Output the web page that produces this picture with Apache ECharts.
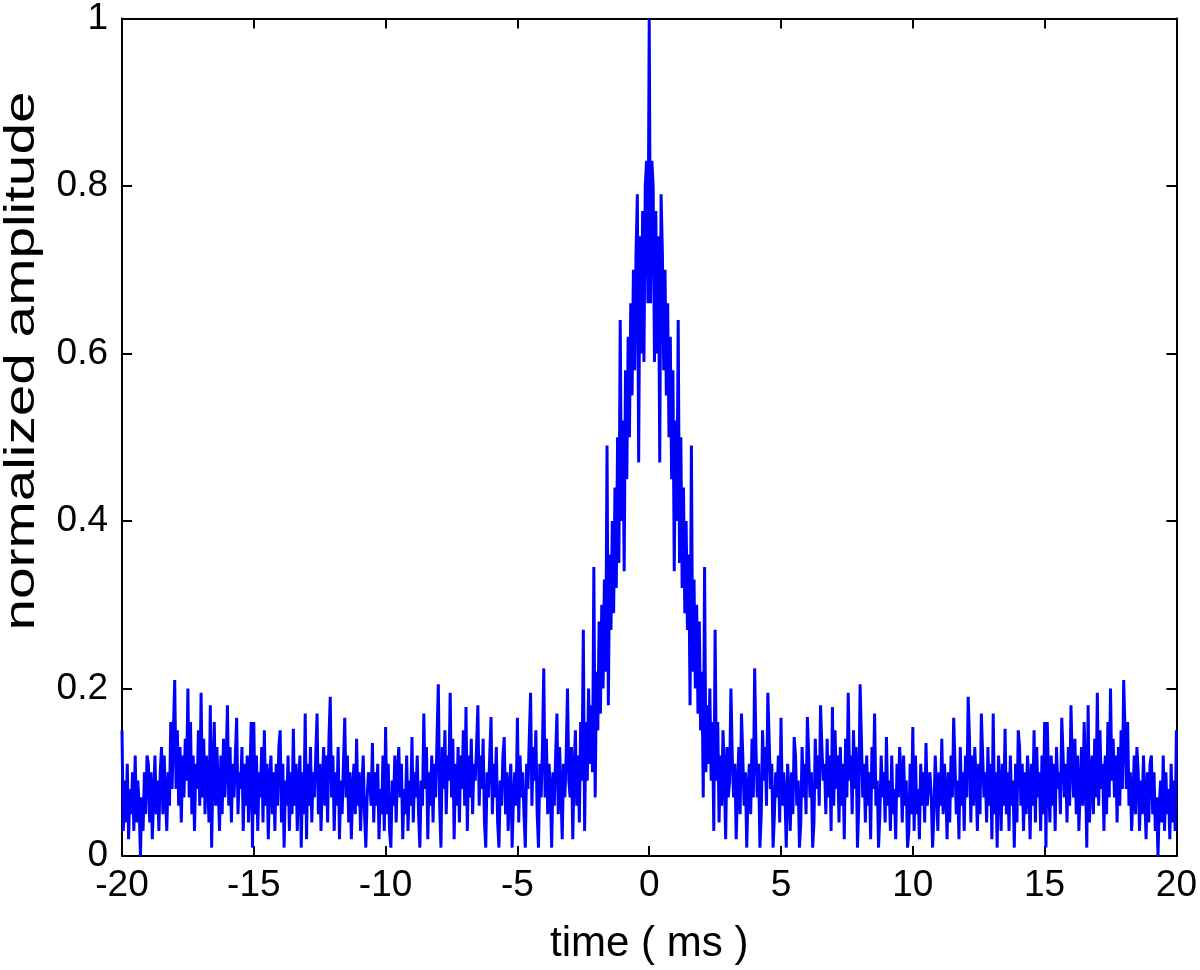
<!DOCTYPE html>
<html lang="en">
<head>
    <meta charset="UTF-8" />
    <title>normalized amplitude vs time</title>
    <script src="https://cdn.jsdelivr.net/npm/echarts@6/dist/echarts.min.js"></script>
    <style>
        body { margin: 0; background: #ffffff; }
        #chart { width: 1200px; height: 970px; }
    </style>
</head>
<body>
<div id="chart"></div>

<script>
    // sampling of the trace (ms)
    const tStart = -20;
    const tStep = 0.05;

    // left wing, t = -20.00 ... -0.05 (one row per ms)
    const leftWing = [
        0.15, 0.03, 0.09, 0.04, 0.11, 0.02, 0.08, 0.05, 0.10, 0.03, 0.12, 0.04, 0.09, 0.06, 0.00, 0.07, 0.03, 0.10, 0.05, 0.12,
        0.11, 0.04, 0.10, 0.02, 0.07, 0.12, 0.05, 0.09, 0.03, 0.10, 0.13, 0.05, 0.12, 0.07, 0.03, 0.10, 0.06, 0.16, 0.08, 0.15,
        0.21, 0.08, 0.15, 0.06, 0.13, 0.04, 0.12, 0.07, 0.14, 0.09, 0.20, 0.07, 0.16, 0.05, 0.12, 0.03, 0.11, 0.08, 0.15, 0.06,
        0.195, 0.07, 0.14, 0.05, 0.12, 0.09, 0.04, 0.18, 0.01, 0.10, 0.16, 0.06, 0.13, 0.08, 0.03, 0.12, 0.05, 0.14, 0.07, 0.11,
        0.18, 0.06, 0.13, 0.04, 0.11, 0.07, 0.12, 0.165, 0.05, 0.10, 0.08, 0.13, 0.03, 0.11, 0.06, 0.12, 0.04, 0.09, 0.16, 0.01,
        0.16, 0.05, 0.12, 0.03, 0.10, 0.07, 0.13, 0.04, 0.15, 0.06, 0.11, 0.02, 0.09, 0.12, 0.05, 0.10, 0.03, 0.11, 0.06, 0.13,
        0.15, 0.04, 0.11, 0.01, 0.09, 0.06, 0.12, 0.03, 0.10, 0.05, 0.152, 0.06, 0.11, 0.03, 0.09, 0.12, 0.01, 0.10, 0.05, 0.17,
        0.02, 0.11, 0.06, 0.13, 0.04, 0.10, 0.07, 0.12, 0.17, 0.05, 0.11, 0.03, 0.09, 0.13, 0.06, 0.12, 0.04, 0.14, 0.19, 0.07,
        0.12, 0.03, 0.10, 0.06, 0.13, 0.02, 0.09, 0.05, 0.11, 0.165, 0.07, 0.12, 0.04, 0.10, 0.02, 0.08, 0.11, 0.05, 0.14, 0.06,
        0.10, 0.03, 0.08, 0.12, 0.05, 0.01, 0.07, 0.10, 0.09, 0.06, 0.135, 0.04, 0.10, 0.06, 0.11, 0.02, 0.08, 0.05, 0.12, 0.03,
        0.154, 0.05, 0.11, 0.03, 0.01, 0.09, 0.06, 0.12, 0.04, 0.10, 0.13, 0.07, 0.11, 0.02, 0.08, 0.05, 0.12, 0.03, 0.09, 0.06,
        0.142, 0.04, 0.10, 0.07, 0.12, 0.05, 0.01, 0.09, 0.06, 0.17, 0.08, 0.13, 0.02, 0.10, 0.06, 0.12, 0.04, 0.11, 0.07, 0.14,
        0.205, 0.06, 0.01, 0.13, 0.08, 0.15, 0.05, 0.12, 0.09, 0.195, 0.07, 0.14, 0.02, 0.11, 0.06, 0.13, 0.04, 0.12, 0.08, 0.15,
        0.06, 0.178, 0.03, 0.12, 0.07, 0.14, 0.05, 0.11, 0.09, 0.13, 0.18, 0.06, 0.12, 0.08, 0.14, 0.04, 0.01, 0.10, 0.07, 0.12,
        0.166, 0.05, 0.11, 0.07, 0.13, 0.04, 0.01, 0.09, 0.06, 0.12, 0.142, 0.05, 0.10, 0.03, 0.08, 0.11, 0.01, 0.07, 0.10, 0.06,
        0.165, 0.04, 0.12, 0.07, 0.10, 0.05, 0.01, 0.11, 0.08, 0.14, 0.195, 0.06, 0.13, 0.09, 0.15, 0.05, 0.01, 0.11, 0.07, 0.13,
        0.224, 0.07, 0.14, 0.05, 0.11, 0.08, 0.01, 0.10, 0.06, 0.12, 0.17, 0.05, 0.13, 0.08, 0.02, 0.11, 0.07, 0.12, 0.20, 0.09,
        0.07, 0.13, 0.02, 0.10, 0.15, 0.06, 0.12, 0.04, 0.16, 0.09, 0.27, 0.03, 0.16, 0.09, 0.20, 0.11, 0.18, 0.10, 0.345, 0.07,
        0.22, 0.15, 0.28, 0.17, 0.30, 0.20, 0.33, 0.22, 0.49, 0.18, 0.36, 0.27, 0.40, 0.29, 0.44, 0.32, 0.50, 0.35, 0.64, 0.40,
        0.52, 0.34, 0.58, 0.45, 0.62, 0.50, 0.66, 0.55, 0.70, 0.58, 0.72, 0.79, 0.47, 0.74, 0.60, 0.77, 0.59, 0.80, 0.83, 0.66
    ];

    // value at t = 0
    const peakValue = [1.0];

    // right wing, t = 0.05 ... 20.00
    const rightWing = [
        0.66, 0.83, 0.80, 0.59, 0.77, 0.60, 0.74, 0.47, 0.79, 0.72, 0.58, 0.70, 0.55, 0.66, 0.50, 0.62, 0.45, 0.58, 0.34, 0.52,
        0.40, 0.64, 0.35, 0.50, 0.32, 0.44, 0.29, 0.40, 0.27, 0.36, 0.18, 0.49, 0.22, 0.33, 0.20, 0.30, 0.17, 0.28, 0.15, 0.22,
        0.07, 0.345, 0.10, 0.18, 0.11, 0.20, 0.09, 0.16, 0.03, 0.27, 0.09, 0.16, 0.04, 0.12, 0.06, 0.15, 0.10, 0.02, 0.13, 0.07,
        0.09, 0.20, 0.12, 0.07, 0.11, 0.02, 0.08, 0.13, 0.05, 0.17, 0.12, 0.06, 0.10, 0.01, 0.08, 0.11, 0.05, 0.14, 0.07, 0.224,
        0.13, 0.07, 0.11, 0.01, 0.05, 0.15, 0.09, 0.13, 0.06, 0.195, 0.14, 0.08, 0.11, 0.01, 0.05, 0.10, 0.07, 0.12, 0.04, 0.165,
        0.06, 0.10, 0.07, 0.01, 0.11, 0.08, 0.03, 0.10, 0.05, 0.142, 0.12, 0.06, 0.09, 0.01, 0.04, 0.13, 0.07, 0.11, 0.05, 0.166,
        0.12, 0.07, 0.10, 0.01, 0.04, 0.14, 0.08, 0.12, 0.06, 0.18, 0.13, 0.09, 0.11, 0.05, 0.14, 0.07, 0.12, 0.03, 0.178, 0.06,
        0.15, 0.08, 0.12, 0.04, 0.13, 0.06, 0.11, 0.02, 0.14, 0.07, 0.195, 0.09, 0.12, 0.05, 0.15, 0.08, 0.13, 0.01, 0.06, 0.205,
        0.14, 0.07, 0.11, 0.04, 0.12, 0.06, 0.10, 0.02, 0.13, 0.08, 0.17, 0.06, 0.09, 0.01, 0.05, 0.12, 0.07, 0.10, 0.04, 0.142,
        0.06, 0.09, 0.03, 0.12, 0.05, 0.08, 0.02, 0.11, 0.07, 0.13, 0.10, 0.04, 0.12, 0.06, 0.09, 0.01, 0.03, 0.11, 0.05, 0.154,
        0.03, 0.12, 0.05, 0.08, 0.02, 0.11, 0.06, 0.10, 0.04, 0.135, 0.06, 0.09, 0.10, 0.07, 0.01, 0.05, 0.12, 0.08, 0.03, 0.10,
        0.06, 0.14, 0.05, 0.11, 0.08, 0.02, 0.10, 0.04, 0.12, 0.07, 0.165, 0.11, 0.05, 0.09, 0.02, 0.13, 0.06, 0.10, 0.03, 0.12,
        0.07, 0.19, 0.14, 0.04, 0.12, 0.06, 0.13, 0.09, 0.03, 0.11, 0.05, 0.17, 0.12, 0.07, 0.10, 0.04, 0.13, 0.06, 0.11, 0.02,
        0.17, 0.05, 0.10, 0.01, 0.12, 0.09, 0.03, 0.11, 0.06, 0.152, 0.05, 0.10, 0.03, 0.12, 0.06, 0.09, 0.01, 0.11, 0.04, 0.15,
        0.13, 0.06, 0.11, 0.03, 0.10, 0.05, 0.12, 0.09, 0.02, 0.11, 0.06, 0.15, 0.04, 0.13, 0.07, 0.10, 0.03, 0.12, 0.05, 0.16,
        0.01, 0.16, 0.09, 0.04, 0.12, 0.06, 0.11, 0.03, 0.13, 0.08, 0.10, 0.05, 0.165, 0.12, 0.07, 0.11, 0.04, 0.13, 0.06, 0.18,
        0.11, 0.07, 0.14, 0.05, 0.12, 0.03, 0.08, 0.13, 0.06, 0.16, 0.10, 0.01, 0.18, 0.04, 0.09, 0.12, 0.05, 0.14, 0.07, 0.195,
        0.06, 0.15, 0.08, 0.11, 0.03, 0.12, 0.05, 0.16, 0.07, 0.20, 0.09, 0.14, 0.07, 0.12, 0.04, 0.13, 0.06, 0.15, 0.08, 0.21,
        0.15, 0.08, 0.16, 0.06, 0.10, 0.03, 0.07, 0.12, 0.05, 0.13, 0.10, 0.03, 0.09, 0.05, 0.12, 0.07, 0.02, 0.10, 0.04, 0.11,
        0.12, 0.05, 0.10, 0.03, 0.07, 0.00, 0.06, 0.09, 0.04, 0.12, 0.03, 0.10, 0.05, 0.08, 0.02, 0.11, 0.04, 0.09, 0.03, 0.15
    ];

    // axis texts
    const xTitle = 'time ( ms )';
    const yTitle = 'normalized amplitude';

    const amplitude = leftWing.concat(peakValue, rightWing);
    const seriesData = amplitude.map((v, i) => [+(tStart + i * tStep).toFixed(2), v]);

    const chart = echarts.init(document.getElementById('chart'));

    const font = '"Liberation Sans", Arial, sans-serif';
    const axisLine = { show: true, onZero: false, lineStyle: { color: '#000', width: 2 } };
    const tickIn = { show: true, inside: true, length: 10, lineStyle: { color: '#000', width: 2 } };

    const option = {
        animation: false,
        backgroundColor: '#fff',
        grid: { left: 122, right: 21, top: 14, bottom: 112 },
        xAxis: [{
            type: 'value', min: -20, max: 20, interval: 5,
            axisLine: axisLine, axisTick: tickIn, splitLine: { show: false },
            axisLabel: { color: '#000', fontSize: 37, fontFamily: font, margin: 11 },
            name: xTitle, nameLocation: 'middle', nameGap: 67,
            nameTextStyle: { color: '#000', fontSize: 42, fontFamily: font, verticalAlign: 'top' }
        }, {
            type: 'value', min: -20, max: 20, interval: 5, position: 'top',
            axisLine: axisLine, axisTick: tickIn, splitLine: { show: false },
            axisLabel: { show: false }
        }],
        yAxis: [{
            type: 'value', min: 0, max: 1, interval: 0.2,
            axisLine: axisLine, axisTick: tickIn, splitLine: { show: false },
            axisLabel: { color: '#000', fontSize: 37, fontFamily: font, margin: 14 }
        }, {
            type: 'value', min: 0, max: 1, interval: 0.2, position: 'right',
            axisLine: axisLine, axisTick: tickIn, splitLine: { show: false },
            axisLabel: { show: false }
        }],
        graphic: [{
            type: 'text',
            x: 22, y: 361,
            rotation: Math.PI / 2,
            scaleX: 1.35,
            style: {
                text: yTitle, fill: '#000', fontSize: 42, fontFamily: font,
                align: 'center', verticalAlign: 'middle'
            }
        }],
        series: [{
            type: 'line',
            data: seriesData,
            showSymbol: false,
            lineStyle: { color: '#0000ff', width: 3 },
            itemStyle: { color: '#0000ff' }
        }]
    };

    chart.setOption(option);
</script>
</body>
</html>
